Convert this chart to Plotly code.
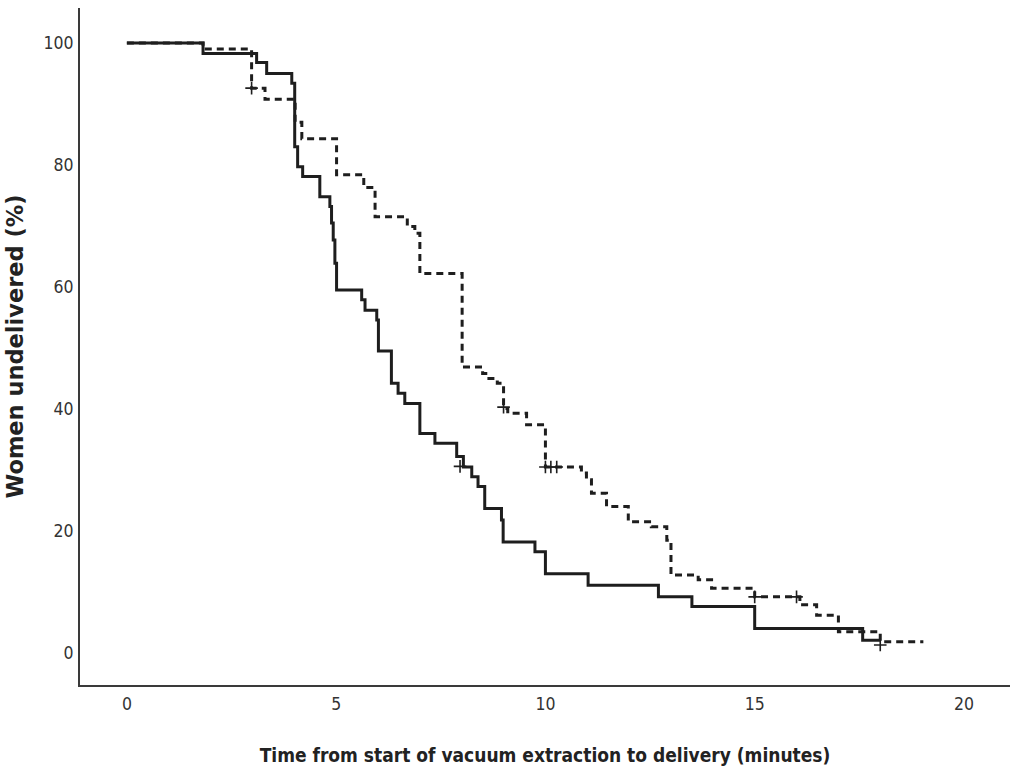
import plotly.graph_objects as go

# Solid curve (group 1): step times and % undelivered
solid_t = [0, 1.82, 3.10, 3.34, 3.94, 4.01, 4.08, 4.20, 4.61, 4.85, 4.89, 4.93, 4.97, 5.01,
           5.61, 5.69, 5.97, 6.01, 6.32, 6.48, 6.64, 7.00, 7.36, 7.88, 8.04, 8.24, 8.39,
           8.55, 8.95, 8.99, 9.75, 10.0, 11.02, 12.70, 13.50, 15.0, 17.58, 18.0]
solid_y = [100, 98.3, 96.8, 95.0, 93.4, 83.0, 79.7, 78.1, 74.8, 73.2, 70.5, 67.7, 63.9, 59.5,
           57.9, 56.2, 54.6, 49.5, 44.2, 42.6, 40.9, 36.0, 34.4, 32.2, 30.5, 28.9, 27.3,
           23.7, 21.8, 18.2, 16.6, 13.0, 11.1, 9.2, 7.6, 4.0, 2.1, 2.1]
solid_cens_t = [7.96, 18.0]
solid_cens_y = [30.6, 1.3]

# Dashed curve (group 2)
dash_t = [0, 1.82, 2.98, 3.30, 4.02, 4.18, 5.01, 5.66, 5.93, 6.70, 6.88, 7.00, 8.01, 8.50,
          8.65, 8.85, 9.00, 9.10, 9.55, 10.0, 10.86, 10.98, 11.10, 11.46, 11.98, 12.53,
          12.90, 13.0, 13.65, 13.97, 15.0, 16.08, 16.48, 17.0, 18.0, 19.03]
dash_y = [100, 99.0, 92.6, 90.8, 87.0, 84.3, 78.4, 76.3, 71.5, 69.9, 68.8, 62.2, 46.9, 45.8,
          45.0, 44.2, 40.1, 39.3, 37.4, 30.5, 29.5, 28.4, 26.2, 24.0, 21.5, 20.7,
          18.5, 12.8, 12.0, 10.6, 9.2, 7.9, 6.2, 3.5, 1.85, 1.85]
dash_cens_t = [2.98, 9.0, 10.0, 10.13, 10.27, 15.0, 16.0]
dash_cens_y = [92.6, 40.3, 30.5, 30.5, 30.5, 9.2, 9.2]

x_ticks = [0, 5, 10, 15, 20]
y_ticks = [0, 20, 40, 60, 80, 100]

ink = "#1e1e1e"

fig = go.Figure()
fig.add_trace(go.Scatter(x=dash_t, y=dash_y, mode="lines", line_shape="hv",
                         line=dict(color=ink, width=3, dash="7px,5px"), showlegend=False))
fig.add_trace(go.Scatter(x=solid_t, y=solid_y, mode="lines", line_shape="hv",
                         line=dict(color=ink, width=3), showlegend=False))
fig.add_trace(go.Scatter(x=dash_cens_t, y=dash_cens_y, mode="markers",
                         marker=dict(symbol="cross-thin", size=9, line=dict(color=ink, width=1.6)),
                         showlegend=False))
fig.add_trace(go.Scatter(x=solid_cens_t, y=solid_cens_y, mode="markers",
                         marker=dict(symbol="cross-thin", size=9, line=dict(color=ink, width=1.6)),
                         showlegend=False))

cond = "DejaVu Sans Condensed, Liberation Sans Narrow, Roboto, sans-serif"
tick_font = dict(family=cond, size=17.5, color="#333")

fig.update_layout(
    width=1011, height=772,
    margin=dict(l=80, r=1, t=8, b=87),
    paper_bgcolor="white", plot_bgcolor="white",
    xaxis=dict(range=[-1.12, 21.1], tickvals=x_ticks, showgrid=False, zeroline=False,
               showline=True, linecolor="#3a3a3a", linewidth=2, ticks="",
               tickfont=tick_font, ticklabelstandoff=2, automargin=False,
               title=dict(text="Time from start of vacuum extraction to delivery (minutes)",
                          font=dict(family=cond, size=19, color="#222", weight="bold"),
                          standoff=36)),
    yaxis=dict(range=[-5.25, 105.74], tickvals=y_ticks, showgrid=False, zeroline=False,
               showline=True, linecolor="#3a3a3a", linewidth=2, ticks="",
               tickfont=tick_font, ticklabelstandoff=1, automargin=False,
               title=dict(text="Women undelivered (%)",
                          font=dict(family="DejaVu Sans", size=22.5, color="#222", weight="bold"),
                          standoff=14)),
)

fig.write_html("out.html", config={"displayModeBar": False},
               post_script="document.body.style.margin='0';document.body.style.overflow='hidden';")
